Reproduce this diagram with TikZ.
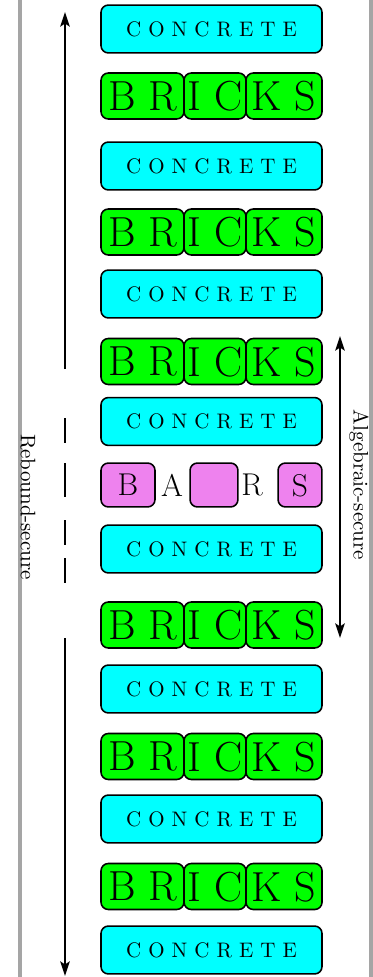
\documentclass[tikz,border=0pt]{standalone}
\usetikzlibrary{arrows.meta}
\definecolor{concretecol}{RGB}{0,255,255}
\definecolor{brickcol}{RGB}{0,255,0}
\definecolor{barcol}{RGB}{238,130,238}
\definecolor{railgray}{RGB}{165,165,165}
\begin{document}
\begin{tikzpicture}[x=0.476pt,y=-0.476pt,
  block/.style={draw=black, line width=0.75pt, rounded corners=3.5pt, inner sep=0pt, text depth=0pt},
  concrete/.style={block, fill=concretecol, minimum width=105.2pt, minimum height=22.8pt, font=\normalsize},
  brick/.style={block, fill=brickcol, minimum height=21.9pt, font=\fontsize{20}{24}\selectfont},
  bar/.style={block, fill=barcol, minimum height=20.9pt, font=\fontsize{15}{18}\selectfont},
  gaptext/.style={inner sep=0pt, font=\fontsize{15}{18}\selectfont},
  rail/.style={railgray, line width=1.9pt},
  bound/.style={line width=0.8pt},
  head/.tip={Stealth[length=7pt,width=4.6pt,inset=1.5pt]},
  label/.style={rotate=-90, inner sep=0pt, font=\normalsize}
]
\useasboundingbox (0,0) rectangle (373,977);

% side rails
\draw[rail] (20,0) -- (20,977);
\draw[rail] (370.5,0) -- (370.5,977);

% concrete layers
\foreach \n/\y in {c1/29, c3/166, c5/294, c7/421.5, c9/549, c11/689, c13/819, c15/950}
  \node[concrete] (\n) at (211.5,\y) {C O N C R E T E};

% brick layers: three bricks each
\foreach \n/\y in {b2/96, b4/232, b6/361.5, b10/625, b12/756.5, b14/886.5}{
  \node[brick, minimum width=39.5pt] (\n a) at (142.5,\y) {B R};
  \node[brick, minimum width=29.5pt] (\n b) at (215,\y) {I C};
  \node[brick, minimum width=36.2pt] (\n c) at (284,\y) {K S};
}

% bars layer
\node[bar, minimum width=25.7pt] (barB) at (128,485) {B};
\node[gaptext] (barA) at (172,485) {A};
\node[bar, minimum width=22.8pt] (barE) at (214,485) {};
\node[gaptext] (barR) at (252,485) {R};
\node[bar, minimum width=20.9pt] (barS) at (300,485) {S};

% rebound-secure bound (left)
\coordinate (rt) at (65,12);
\coordinate (ru) at (65,369);
\coordinate (d1a) at (65,418); \coordinate (d1b) at (65,443);
\coordinate (d2a) at (65,463); \coordinate (d2b) at (65,497);
\coordinate (d3a) at (65,520); \coordinate (d3b) at (65,545);
\coordinate (d4a) at (65,558); \coordinate (d4b) at (65,583);
\coordinate (rl) at (65,638);
\coordinate (rb) at (65,976);
\draw[bound, -head] (ru) -- (rt);
\draw[bound] (d1a) -- (d1b);
\draw[bound] (d2a) -- (d2b);
\draw[bound] (d3a) -- (d3b);
\draw[bound] (d4a) -- (d4b);
\draw[bound, -head] (rl) -- (rb);
\node[label] (reb) at (28,507) {Rebound-secure};

% algebraic-secure bound (right)
\coordinate (at) at (340,336);
\coordinate (ab) at (340,638);
\draw[bound, head-head] (at) -- (ab);
\node[label] (alg) at (359,485) {Algebraic-secure};
\end{tikzpicture}
\end{document}
